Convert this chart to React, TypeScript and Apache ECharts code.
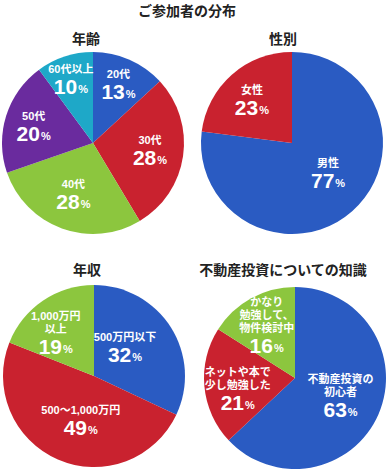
import React, { useEffect, useRef } from "react";
import * as echarts from "echarts";

const mainTitle = "ご参加者の分布";
const chartTitles = ["年齢", "性別", "年収", "不動産投資についての知識"];

const ageNames = ["20代", "30代", "40代", "50代", "60代以上"];
const ageValues = [13, 28, 28, 20, 10];

const genderNames = ["男性", "女性"];
const genderValues = [77, 23];

const incomeNames = ["500万円以下", "500〜1,000万円", "1,000万円\n以上"];
const incomeValues = [32, 49, 19];

const knowledgeNames = ["不動産投資の\n初心者", "ネットや本で\n少し勉強した", "かなり\n勉強して、\n物件検討中"];
const knowledgeValues = [63, 21, 16];

const BLUE = "#2a5bc2";
const RED = "#c9222f";
const GREEN = "#8cc63e";
const PURPLE = "#6a2b9e";
const CYAN = "#1ea8c8";

const CJK = '"Noto Sans CJK JP", sans-serif';
const NUM = '"Liberation Sans", Arial, "Noto Sans CJK JP", sans-serif';

const labelStyle = {
  show: true,
  position: "inside",
  color: "#fff",
  align: "center",
  formatter: (p: any) => `{n|${p.name}}\n{v|${p.value}}{p|%}`,
  rich: {
    n: { color: "#fff", fontSize: 11, fontWeight: "bold", fontFamily: NUM, lineHeight: 13, align: "center" },
    v: { color: "#fff", fontSize: 21, fontWeight: "bold", fontFamily: NUM, lineHeight: 22, align: "center" },
    p: { color: "#fff", fontSize: 11, fontWeight: "bold", fontFamily: NUM, lineHeight: 22, padding: [5, 0, 0, 1] },
  },
};

const ageOffsets = [[6, -14], [9, 1], [-3, 6], [-13, -2], [-7, -17]];
const genderOffsets = [[4, -5], [-8, -6]];
const incomeOffsets = [[-10, -2], [6, 0], [-11, -2]];
const knowledgeOffsets = [[1, -1], [-9, 7], [-5, -9]];

function pie(names: string[], values: number[], colors: string[], center: number[], offsets: number[][]) {
  return {
    type: "pie",
    center,
    radius: 91,
    startAngle: 90,
    clockwise: true,
    silent: true,
    avoidLabelOverlap: false,
    itemStyle: { borderWidth: 0 },
    label: labelStyle,
    labelLine: { show: false },
    emphasis: { disabled: true },
    labelLayout: (p: any) => ({ dx: offsets[p.dataIndex][0], dy: offsets[p.dataIndex][1] }),
    data: names.map((n, i) => ({ name: n, value: values[i], itemStyle: { color: colors[i] } })),
  };
}

function titleText(text: string, x: number, y: number) {
  return {
    type: "text",
    x,
    y,
    silent: true,
    style: {
      text,
      align: "center",
      verticalAlign: "middle",
      fontSize: 14,
      fontWeight: "bold",
      fontFamily: CJK,
      fill: "#222",
    },
  };
}

export default function App() {
  const ref = useRef<HTMLDivElement>(null);
  useEffect(() => {
    if (!ref.current) return;
    const chart = echarts.init(ref.current, null, { renderer: "svg" });
    chart.setOption({
      animation: false,
      backgroundColor: "#fff",
      graphic: [
        titleText(mainTitle, 187, 9.5),
        titleText(chartTitles[0], 86, 38),
        titleText(chartTitles[1], 283, 38),
        titleText(chartTitles[2], 87, 269),
        titleText(chartTitles[3], 283, 269),
      ],
      series: [
        pie(ageNames, ageValues, [BLUE, RED, GREEN, PURPLE, CYAN], [93, 143], ageOffsets),
        pie(genderNames, genderValues, [BLUE, RED], [292, 143], genderOffsets),
        pie(incomeNames, incomeValues, [BLUE, RED, GREEN], [94, 376], incomeOffsets),
        pie(knowledgeNames, knowledgeValues, [BLUE, RED, GREEN], [295, 378], knowledgeOffsets),
      ],
    });
    return () => chart.dispose();
  }, []);
  return <div ref={ref} style={{ position: "absolute", left: 0, top: 0, width: 388, height: 472 }} />;
}
